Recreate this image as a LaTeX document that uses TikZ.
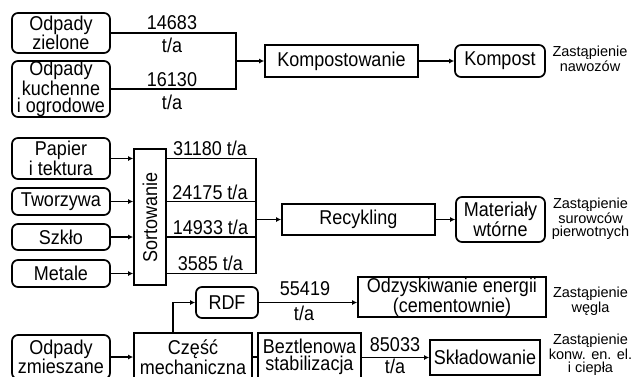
\documentclass[tikz,border=0pt]{standalone}
\usepackage{fontspec}
\setmainfont{Liberation Sans}[FakeStretch=0.9]
\newfontfamily\notefont{Liberation Sans}
\usetikzlibrary{arrows.meta}
\begin{document}
\begin{tikzpicture}[x=1pt,y=-1pt,
  box/.style={draw, line width=1.7pt, inner sep=0pt, align=center, font=\fontsize{20}{16.8}\selectfont},
  rbox/.style={box, rounded corners=6pt},
  lbl/.style={inner sep=0pt, font=\fontsize{20}{16.8}\selectfont},
  note/.style={inner sep=0pt, align=center, font=\notefont\fontsize{14.5}{13.5}\selectfont},
  conn/.style={line width=1.4pt},
  arr/.style={conn, -{Latex[length=5pt,width=5pt]}},
]
\useasboundingbox (0,0) rectangle (634,376);

% ---------- top row ----------
\node[rbox, minimum width=98pt, minimum height=40pt] (zielone) at (61,33) {Odpady\\zielone};
\node[rbox, minimum width=98pt, minimum height=56pt] (kuchenne) at (61,89) {Odpady\\kuchenne\\i ogrodowe};
\node[box, minimum width=153pt, minimum height=32pt] (komp) at (341.5,61) {Kompostowanie};
\node[rbox, minimum width=90pt, minimum height=32pt] (kompost) at (500,61) {Kompost};
\node[note] (zast1) at (590,59) {Zastąpienie\\nawozów};
\coordinate (j1) at (236,61);
\draw[conn] (zielone.east) -| (j1);
\draw[conn] (kuchenne.east) -| (j1);
\draw[arr] (j1) -- (komp.west);
\draw[arr] (komp.east) -- (kompost.west);
\node[lbl] (l1a) at (172,23) {14683};
\node[lbl] (l1b) at (172,45) {t/a};
\node[lbl] (l2a) at (172,80) {16130};
\node[lbl] (l2b) at (172,102) {t/a};

% ---------- middle row ----------
\node[rbox, minimum width=98pt, minimum height=41pt] (papier) at (61,158.5) {Papier\\i tektura};
\node[rbox, minimum width=98pt, minimum height=27pt] (tworzywa) at (61,201.5) {Tworzywa};
\node[rbox, minimum width=98pt, minimum height=26pt] (szklo) at (61,237) {Szkło};
\node[rbox, minimum width=98pt, minimum height=27pt] (metale) at (61,273.5) {Metale};
\node[box, minimum width=32pt, minimum height=136pt] (sort) at (150,217) {};
\node[lbl, rotate=90] (sorttxt) at (sort.center) {Sortowanie};
\draw[arr] (papier.east) -- (papier.east -| sort.west);
\draw[arr] (tworzywa.east) -- (tworzywa.east -| sort.west);
\draw[arr] (szklo.east) -- (szklo.east -| sort.west);
\draw[arr] (metale.east) -- (metale.east -| sort.west);
\coordinate (v1) at (256,158.5);
\coordinate (v2) at (256,201.5);
\coordinate (v3) at (256,237);
\coordinate (v4) at (256,273.5);
\node[box, minimum width=153pt, minimum height=31pt] (recykling) at (358.5,219.5) {Recykling};
\node[rbox, minimum width=89pt, minimum height=45pt] (material) at (500.5,219.5) {Materiały\\wtórne};
\node[note] (zast2) at (590.5,219) {Zastąpienie\\surowców\\pierwotnych};
\draw[conn] (papier.east -| sort.east) -- (v1) -- (v4) -- (metale.east -| sort.east);
\draw[conn] (tworzywa.east -| sort.east) -- (v2);
\draw[conn] (szklo.east -| sort.east) -- (v3);
\draw[arr] (v1 |- recykling.west) -- (recykling.west);
\draw[arr] (recykling.east) -- (material.west);
\node[lbl] (s1) at (210,148) {31180 t/a};
\node[lbl] (s2) at (210,192) {24175 t/a};
\node[lbl] (s3) at (210.5,227) {14933 t/a};
\node[lbl] (s4) at (210.5,263.5) {3585 t/a};

% ---------- bottom row ----------
\node[rbox, minimum width=98pt, minimum height=44pt] (zmieszane) at (61,357) {Odpady\\zmieszane};
\node[box, minimum width=118pt, minimum height=48pt] (czesc) at (193,357) {Część\\mechaniczna};
\node[rbox, minimum width=62pt, minimum height=31pt] (rdf) at (227,302.5) {RDF};
\node[box, minimum width=188pt, minimum height=40pt] (odzysk) at (452,297) {Odzyskiwanie energii\\(cementownie)};
\node[note] (zast3) at (590.5,301) {Zastąpienie\\węgla};
\node[box, minimum width=103pt, minimum height=48pt] (beztl) at (309.5,357) {Beztlenowa\\stabilizacja};
\node[box, minimum width=110pt, minimum height=35pt] (sklad) at (485,357.5) {Składowanie};
\node[note] (zast4) at (590.5,355) {Zastąpienie\\konw. en. el.\\i ciepła};
\draw[arr] (zmieszane.east) -- (zmieszane.east -| czesc.west);
\draw[arr] ([xshift=-20pt]czesc.north) |- (rdf.west);
\draw[arr] (rdf.east) -- (rdf.east -| odzysk.west);
\draw[conn] (czesc.east) -- (beztl.west);
\draw[arr] (beztl.east |- sklad.west) -- (sklad.west);
\node[lbl] (r1) at (305,289) {55419};
\node[lbl] (r2) at (304,313) {t/a};
\node[lbl] (b1) at (395,345) {85033};
\node[lbl] (b2) at (395,366) {t/a};
\end{tikzpicture}
\end{document}
